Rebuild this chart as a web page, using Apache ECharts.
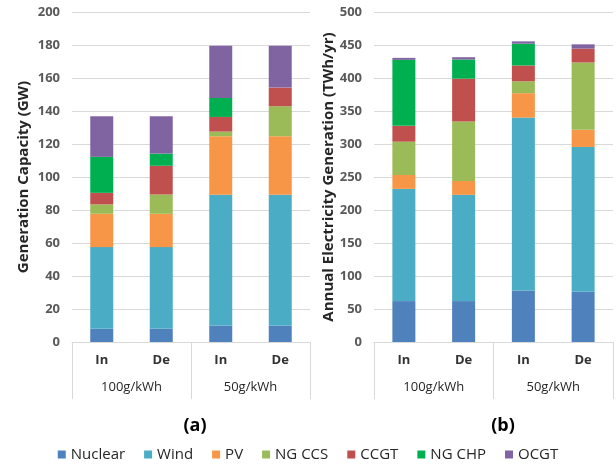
<!DOCTYPE html>
<html>
<head>
<meta charset="utf-8">
<script src="https://cdn.jsdelivr.net/npm/echarts@6/dist/echarts.min.js"></script>
<style>html,body{margin:0;padding:0;background:#fff}#c{width:616px;height:464px}</style>
</head>
<body>
<div id="c"></div>
<script>
var categories = ['In', 'De', 'In', 'De'];
var groups = ['100g/kWh', '50g/kWh'];
var techNames = ['Nuclear', 'Wind', 'PV', 'NG CCS', 'CCGT', 'NG CHP', 'OCGT'];
var techColors = ['#4F81BD', '#4BACC6', '#F79646', '#9BBB59', '#C0504D', '#00B050', '#8064A2'];

// (a) Generation Capacity (GW)
var capNuclear = [8, 8, 10, 10];
var capWind = [49.5, 49.5, 79.2, 79.2];
var capPV = [20.2, 20.2, 35.5, 35.5];
var capCCS = [5.7, 11.7, 2.8, 18.2];
var capCCGT = [7, 17.4, 8.9, 11.3];
var capCHP = [21.8, 7.4, 11.5, 0];
var capOCGT = [24.6, 22.6, 31.7, 25.4];

// (b) Annual Electricity Generation (TWh/yr)
var genNuclear = [62, 62, 78, 76];
var genWind = [170, 161, 262, 219.5];
var genPV = [21, 21, 37, 26];
var genCCS = [50.5, 90, 18, 102];
var genCCGT = [24, 65, 24, 21];
var genCHP = [100, 29, 33, 0];
var genOCGT = [3, 3.5, 3.5, 6.5];

var capData = [capNuclear, capWind, capPV, capCCS, capCCGT, capCHP, capOCGT];
var genData = [genNuclear, genWind, genPV, genCCS, genCCGT, genCHP, genOCGT];

var FONT = 'Open Sans';
var gridLine = '#d9d9d9';

function catAxis(gi) {
  return {
    type: 'category', gridIndex: gi, data: categories, position: 'bottom', offset: 0,
    axisLine: { show: false }, axisTick: { show: false },
    axisLabel: { margin: 12, fontFamily: FONT, fontSize: 13, fontWeight: 'bold', color: '#333333' }
  };
}
function groupAxis(gi) {
  return {
    type: 'category', gridIndex: gi, data: groups, position: 'bottom', offset: 0,
    axisLine: { show: true, lineStyle: { color: gridLine, width: 1 } },
    axisTick: { show: true, length: 57, lineStyle: { color: gridLine, width: 1 } },
    axisLabel: { margin: 39, fontFamily: FONT, fontSize: 13, color: '#262626' }
  };
}
function valAxis(gi, max, interval, name, gap) {
  return {
    type: 'value', gridIndex: gi, min: 0, max: max, interval: interval,
    name: name, nameLocation: 'middle', nameGap: gap, nameRotate: 90,
    nameTextStyle: { fontFamily: FONT, fontSize: 15, fontWeight: 'bold', color: '#262626' },
    axisLine: { show: false }, axisTick: { show: false },
    axisLabel: { margin: 12, fontFamily: FONT, fontSize: 13, fontWeight: 'bold', color: '#595959' },
    splitLine: { lineStyle: { color: gridLine, width: 1 } }
  };
}

var series = [];
techNames.forEach(function (n, i) {
  series.push({
    name: n, type: 'bar', stack: 'cap', xAxisIndex: 0, yAxisIndex: 0,
    barWidth: 23, data: capData[i], itemStyle: { color: techColors[i] }
  });
});
techNames.forEach(function (n, i) {
  series.push({
    name: n, type: 'bar', stack: 'gen', xAxisIndex: 2, yAxisIndex: 1,
    barWidth: 23, data: genData[i], itemStyle: { color: techColors[i] }
  });
});

var chart = echarts.init(document.getElementById('c'), null, { renderer: 'canvas' });
chart.setOption({
  animation: false,
  backgroundColor: '#ffffff',
  title: [
    { text: '(a)', left: 190, top: 412, textAlign: 'center',
      textStyle: { fontFamily: FONT, fontSize: 18, fontWeight: 'bold', color: '#000' } },
    { text: '(b)', left: 498, top: 412, textAlign: 'center',
      textStyle: { fontFamily: FONT, fontSize: 18, fontWeight: 'bold', color: '#000' } }
  ],
  legend: {
    data: techNames, top: 442, left: 'center', icon: 'rect',
    itemWidth: 8, itemHeight: 8, itemGap: 19,
    textStyle: { fontFamily: FONT, fontSize: 15, color: '#262626' }
  },
  grid: [
    { left: 72, top: 12, width: 238, bottom: 122 },
    { left: 374, top: 12, width: 239, bottom: 122 }
  ],
  xAxis: [catAxis(0), groupAxis(0), catAxis(1), groupAxis(1)],
  yAxis: [
    valAxis(0, 200, 20, 'Generation Capacity (GW)', 41),
    valAxis(1, 500, 50, 'Annual Electricity Generation (TWh/yr)', 33)
  ],
  series: series
});
</script>
</body>
</html>
